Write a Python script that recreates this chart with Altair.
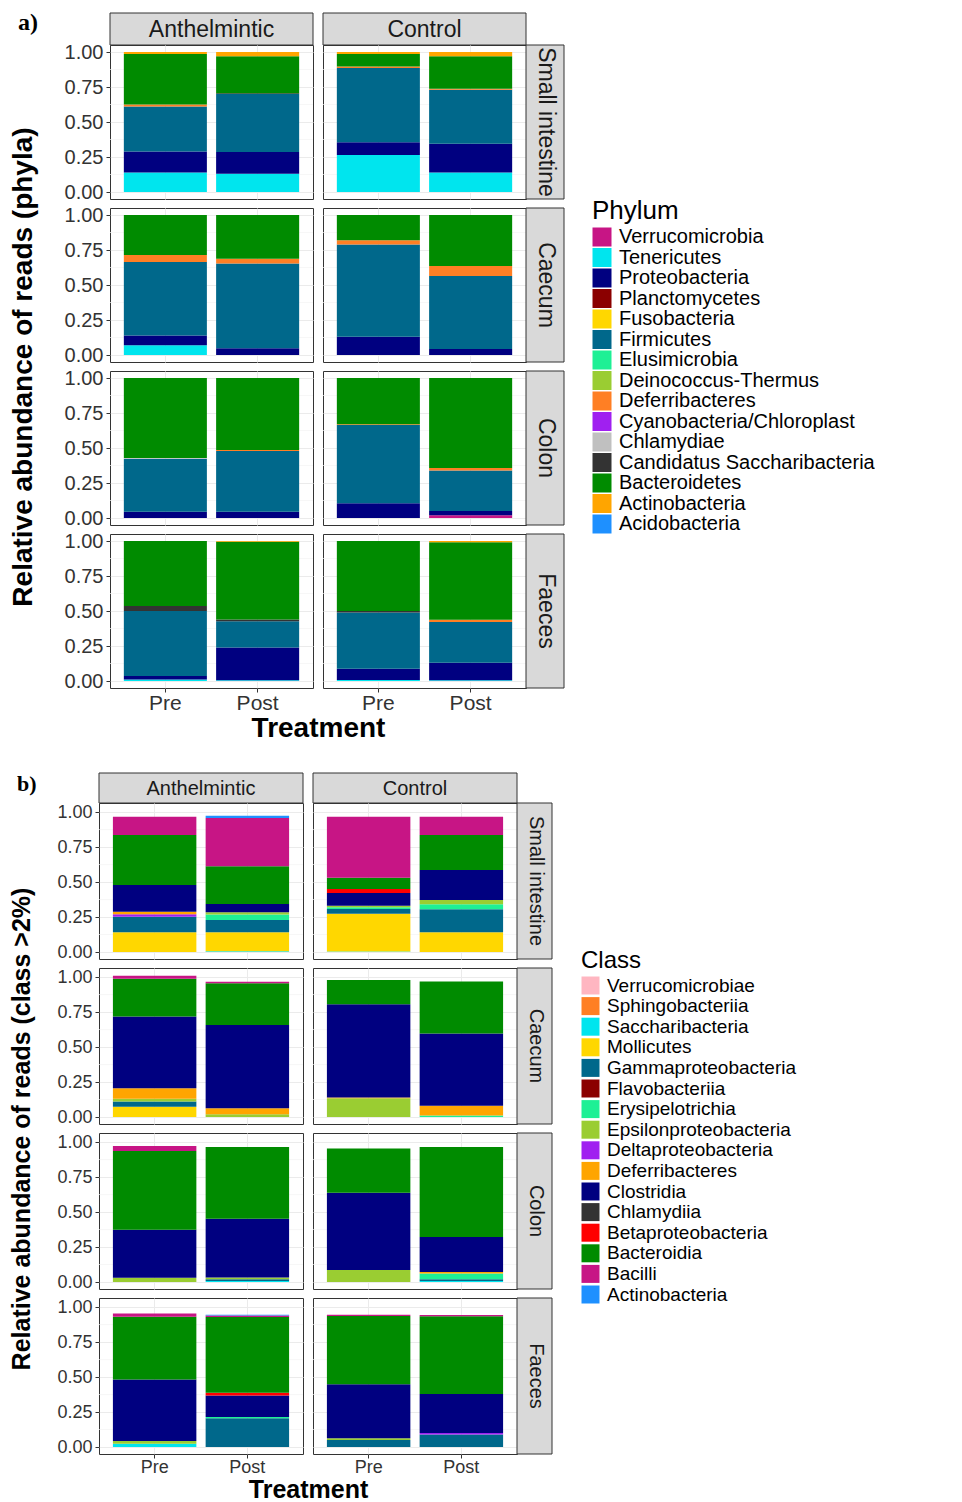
import altair as alt
import pandas as pd

FONT = "Liberation Sans"

TIMES = ["Pre", "Post"]
GROUPS = ["Anthelmintic", "Control"]
SITES = ["Small intestine", "Caecum", "Colon", "Faeces"]

# ---------------- a) phyla ----------------
PHYLA = ["Verrucomicrobia", "Tenericutes", "Proteobacteria", "Planctomycetes",
         "Fusobacteria", "Firmicutes", "Elusimicrobia", "Deinococcus-Thermus",
         "Deferribacteres", "Cyanobacteria/Chloroplast", "Chlamydiae",
         "Candidatus Saccharibacteria", "Bacteroidetes", "Actinobacteria",
         "Acidobacteria"]
PHYLUM_COLORS = ["#c71585", "#00e5ee", "#000080", "#8b0000", "#ffd700", "#00688b",
                 "#1ef095", "#9acd32", "#ff7f24", "#a020f0", "#c0c0c0", "#333333",
                 "#008b00", "#ffa500", "#1e90ff"]

PHYLA_SMALL_INTESTINE = {
    ("Anthelmintic", "Pre"): {"Tenericutes": 0.14, "Proteobacteria": 0.15, "Firmicutes": 0.32,
                              "Deferribacteres": 0.015, "Bacteroidetes": 0.36, "Actinobacteria": 0.015},
    ("Anthelmintic", "Post"): {"Tenericutes": 0.13, "Proteobacteria": 0.155, "Firmicutes": 0.415,
                               "Candidatus Saccharibacteria": 0.005, "Bacteroidetes": 0.265, "Actinobacteria": 0.03},
    ("Control", "Pre"): {"Tenericutes": 0.265, "Proteobacteria": 0.09, "Firmicutes": 0.53,
                         "Deferribacteres": 0.012, "Bacteroidetes": 0.088, "Actinobacteria": 0.015},
    ("Control", "Post"): {"Tenericutes": 0.14, "Proteobacteria": 0.205, "Firmicutes": 0.385,
                          "Deferribacteres": 0.008, "Bacteroidetes": 0.232, "Actinobacteria": 0.03},
}
PHYLA_CAECUM = {
    ("Anthelmintic", "Pre"): {"Tenericutes": 0.07, "Proteobacteria": 0.07, "Firmicutes": 0.525,
                              "Deferribacteres": 0.05, "Bacteroidetes": 0.285},
    ("Anthelmintic", "Post"): {"Proteobacteria": 0.048, "Firmicutes": 0.605,
                               "Deferribacteres": 0.035, "Bacteroidetes": 0.312},
    ("Control", "Pre"): {"Proteobacteria": 0.13, "Firmicutes": 0.66,
                         "Deferribacteres": 0.03, "Bacteroidetes": 0.18},
    ("Control", "Post"): {"Proteobacteria": 0.042, "Firmicutes": 0.523,
                          "Deferribacteres": 0.07, "Bacteroidetes": 0.365},
}
PHYLA_COLON = {
    ("Anthelmintic", "Pre"): {"Proteobacteria": 0.045, "Firmicutes": 0.378,
                              "Chlamydiae": 0.005, "Bacteroidetes": 0.572},
    ("Anthelmintic", "Post"): {"Proteobacteria": 0.045, "Firmicutes": 0.434,
                               "Deferribacteres": 0.006, "Bacteroidetes": 0.515},
    ("Control", "Pre"): {"Proteobacteria": 0.105, "Firmicutes": 0.56,
                         "Deferribacteres": 0.005, "Bacteroidetes": 0.33},
    ("Control", "Post"): {"Verrucomicrobia": 0.019, "Proteobacteria": 0.031, "Firmicutes": 0.29,
                          "Deferribacteres": 0.018, "Bacteroidetes": 0.642},
}
PHYLA_FAECES = {
    ("Anthelmintic", "Pre"): {"Tenericutes": 0.01, "Proteobacteria": 0.026, "Firmicutes": 0.464,
                              "Candidatus Saccharibacteria": 0.036, "Bacteroidetes": 0.464},
    ("Anthelmintic", "Post"): {"Tenericutes": 0.005, "Proteobacteria": 0.234, "Firmicutes": 0.188,
                               "Candidatus Saccharibacteria": 0.012, "Bacteroidetes": 0.555,
                               "Actinobacteria": 0.006},
    ("Control", "Pre"): {"Tenericutes": 0.008, "Proteobacteria": 0.08, "Firmicutes": 0.402,
                         "Candidatus Saccharibacteria": 0.01, "Bacteroidetes": 0.50},
    ("Control", "Post"): {"Tenericutes": 0.005, "Proteobacteria": 0.126, "Firmicutes": 0.291,
                          "Deferribacteres": 0.015, "Bacteroidetes": 0.554, "Actinobacteria": 0.009},
}

# ---------------- b) classes ----------------
CLASSES = ["Verrucomicrobiae", "Sphingobacteriia", "Saccharibacteria", "Mollicutes",
           "Gammaproteobacteria", "Flavobacteriia", "Erysipelotrichia",
           "Epsilonproteobacteria", "Deltaproteobacteria", "Deferribacteres",
           "Clostridia", "Chlamydiia", "Betaproteobacteria", "Bacteroidia", "Bacilli",
           "Actinobacteria"]
CLASS_COLORS = ["#ffb6c1", "#ff7f24", "#00e5ee", "#ffd700", "#00688b", "#8b0000",
                "#1ef095", "#9acd32", "#a020f0", "#ffa500", "#000080", "#333333",
                "#ff0000", "#008b00", "#c71585", "#1e90ff"]

CLASS_SMALL_INTESTINE = {
    ("Anthelmintic", "Pre"): {"Mollicutes": 0.141, "Gammaproteobacteria": 0.111,
                              "Deltaproteobacteria": 0.018, "Deferribacteres": 0.018,
                              "Clostridia": 0.191, "Bacteroidia": 0.357, "Bacilli": 0.131},
    ("Anthelmintic", "Post"): {"Saccharibacteria": 0.006, "Mollicutes": 0.136,
                               "Gammaproteobacteria": 0.086, "Erysipelotrichia": 0.04,
                               "Epsilonproteobacteria": 0.016, "Clostridia": 0.06,
                               "Bacteroidia": 0.269, "Bacilli": 0.345, "Actinobacteria": 0.016},
    ("Control", "Pre"): {"Saccharibacteria": 0.004, "Mollicutes": 0.269,
                         "Gammaproteobacteria": 0.034, "Erysipelotrichia": 0.012,
                         "Epsilonproteobacteria": 0.012, "Clostridia": 0.091,
                         "Betaproteobacteria": 0.029, "Bacteroidia": 0.079, "Bacilli": 0.436},
    ("Control", "Post"): {"Mollicutes": 0.141, "Gammaproteobacteria": 0.164,
                          "Erysipelotrichia": 0.036, "Epsilonproteobacteria": 0.031,
                          "Clostridia": 0.214, "Bacteroidia": 0.25, "Bacilli": 0.131},
}
CLASS_CAECUM = {
    ("Anthelmintic", "Pre"): {"Mollicutes": 0.074, "Gammaproteobacteria": 0.036,
                              "Epsilonproteobacteria": 0.02, "Deferribacteres": 0.076,
                              "Clostridia": 0.512, "Bacteroidia": 0.271, "Bacilli": 0.02},
    ("Anthelmintic", "Post"): {"Epsilonproteobacteria": 0.02, "Deferribacteres": 0.043,
                               "Clostridia": 0.595, "Bacteroidia": 0.298, "Bacilli": 0.01},
    ("Control", "Pre"): {"Epsilonproteobacteria": 0.134, "Deferribacteres": 0.005,
                         "Clostridia": 0.667, "Bacteroidia": 0.174},
    ("Control", "Post"): {"Erysipelotrichia": 0.01, "Deferribacteres": 0.071,
                          "Clostridia": 0.516, "Bacteroidia": 0.371},
}
CLASS_COLON = {
    ("Anthelmintic", "Pre"): {"Epsilonproteobacteria": 0.031, "Clostridia": 0.343,
                              "Bacteroidia": 0.562, "Bacilli": 0.036},
    ("Anthelmintic", "Post"): {"Saccharibacteria": 0.008, "Gammaproteobacteria": 0.012,
                               "Epsilonproteobacteria": 0.012, "Clostridia": 0.421,
                               "Bacteroidia": 0.512},
    ("Control", "Pre"): {"Epsilonproteobacteria": 0.086, "Clostridia": 0.552,
                         "Bacteroidia": 0.317},
    ("Control", "Post"): {"Saccharibacteria": 0.008, "Gammaproteobacteria": 0.012,
                          "Erysipelotrichia": 0.04, "Deferribacteres": 0.012,
                          "Clostridia": 0.25, "Bacteroidia": 0.643},
}
CLASS_FAECES = {
    ("Anthelmintic", "Pre"): {"Saccharibacteria": 0.024, "Epsilonproteobacteria": 0.019,
                              "Clostridia": 0.44, "Bacteroidia": 0.448, "Bacilli": 0.024},
    ("Anthelmintic", "Post"): {"Gammaproteobacteria": 0.205, "Erysipelotrichia": 0.01,
                               "Clostridia": 0.153, "Betaproteobacteria": 0.019,
                               "Bacteroidia": 0.543, "Bacilli": 0.01, "Actinobacteria": 0.005},
    ("Control", "Pre"): {"Gammaproteobacteria": 0.05, "Epsilonproteobacteria": 0.012,
                         "Clostridia": 0.386, "Bacteroidia": 0.488, "Bacilli": 0.01},
    ("Control", "Post"): {"Gammaproteobacteria": 0.09, "Deltaproteobacteria": 0.01,
                          "Clostridia": 0.279, "Bacteroidia": 0.555, "Bacilli": 0.01},
}

Y_TICKS = [0, 0.25, 0.5, 0.75, 1.0]
Y_MINOR = [0.125, 0.375, 0.625, 0.875]


def build(site_tables, cats):
    rows = []
    for site, table in zip(SITES, site_tables):
        for (grp, t), vals in table.items():
            for taxon, v in vals.items():
                rows.append(dict(site=site, group=grp, time=t, taxon=taxon,
                                 value=v, idx=cats.index(taxon)))
    return pd.DataFrame(rows)


def panel(df, cats, colors, S, site, grp, left, bottom, ytitle):
    sub = df[(df.site == site) & (df.group == grp)]
    yscale = alt.Scale(domain=S["ydomain"], nice=False, zero=False)
    yargs = dict(values=Y_TICKS, format=".2f", grid=True, gridColor="#ebebeb",
                 gridWidth=1, domain=False, labels=left, ticks=left,
                 tickSize=4, tickColor="#333333", labelPadding=3,
                 labelFontSize=S["tick_fs"], labelColor="#333333", labelFont=FONT,
                 titleFont=FONT, titleFontSize=S["title_fs"], titleFontWeight="bold",
                 titleColor="#000000")
    if ytitle:
        yargs.update(title=S["ytitle"], titleY=S["panel_h"] + 4.5, titleAlign="center",
                     titlePadding=S["ytitle_pad"])
    else:
        yargs.update(title=None)
    yaxis = alt.Axis(**yargs)

    xargs = dict(grid=True, gridColor="#ebebeb", domain=False, bandPosition=0.5,
                 labels=bottom, ticks=bottom, tickSize=4, tickColor="#333333",
                 labelAngle=0, labelPadding=0, labelFontSize=S["xlab_fs"],
                 labelColor="#333333", labelFont=FONT, titleFont=FONT,
                 titleFontSize=S["title_fs"], titleFontWeight="bold",
                 titleColor="#000000")
    if bottom and left:
        xargs.update(title="Treatment", titleX=S["panel_w"] + 5, titleAlign="center",
                     titlePadding=1)
    else:
        xargs.update(title=None)
    xaxis = alt.Axis(**xargs)

    legend = alt.Legend(title=S["leg_title"], orient="none", legendX=S["leg_x"],
                        legendY=S["leg_y"], symbolType="square",
                        symbolSize=S["leg_sym"] ** 2, symbolStrokeWidth=0,
                        labelFontSize=S["leg_fs"], labelFont=FONT, labelColor="#000000",
                        titleFontSize=S["leg_title_fs"], titleFont=FONT,
                        titleFontWeight="normal", titleColor="#000000",
                        rowPadding=S["leg_rowpad"], labelOffset=7, titlePadding=3,
                        labelLimit=500)

    minor = alt.Chart(pd.DataFrame({"v": Y_MINOR})).mark_rule(
        color="#f3f3f3", strokeWidth=0.7).encode(
        y=alt.Y("v:Q", scale=yscale, axis=yaxis))

    bars = alt.Chart(sub).mark_bar().encode(
        x=alt.X("time:N", sort=TIMES,
                scale=alt.Scale(domain=TIMES, paddingInner=0.1, paddingOuter=0.15),
                axis=xaxis),
        y=alt.Y("value:Q", stack="zero", scale=yscale, axis=yaxis),
        color=alt.Color("taxon:N", scale=alt.Scale(domain=cats, range=colors),
                        legend=legend),
        order=alt.Order("idx:Q", sort="ascending"),
    )
    return alt.layer(minor, bars).properties(
        width=S["panel_w"], height=S["panel_h"],
        view=alt.ViewBackground(stroke="#333333", strokeWidth=1))


def header(label, S, tag=None):
    d = pd.DataFrame({"label": [label]})
    base = alt.Chart(d)
    full_h = S["hdr_h"] + 9
    rect = base.mark_rect(fill="#d9d9d9", stroke="#333333", strokeWidth=1).encode(
        x=alt.value(0), x2=alt.value(S["panel_w"]), y=alt.value(0), y2=alt.value(full_h))
    txt = base.mark_text(fontSize=S["hdr_fs"], font=FONT, color="#1a1a1a",
                         baseline="middle", align="center").encode(
        text="label:N", x=alt.value(S["panel_w"] / 2), y=alt.value(full_h / 2 + 1))
    layers = [rect, txt]
    if tag:
        layers.append(base.mark_text(text=tag, font="Liberation Serif", fontWeight="bold",
                                     fontSize=S["tag_fs"], align="left",
                                     baseline="middle", color="#000000").encode(
            x=alt.value(S["tag_x"]), y=alt.value(S["tag_y"])))
    return alt.layer(*layers).properties(
        width=S["panel_w"], height=S["hdr_h"],
        view=alt.ViewBackground(stroke="transparent"))


def strip(site, S):
    d = pd.DataFrame({"label": [site]})
    base = alt.Chart(d)
    rect = base.mark_rect(fill="#d9d9d9", stroke="#333333", strokeWidth=1).encode(
        x=alt.value(-10), x2=alt.value(S["strip_w"]), y=alt.value(0),
        y2=alt.value(S["panel_h"]))
    txt = base.mark_text(fontSize=S["hdr_fs"], font=FONT, color="#1a1a1a", angle=90,
                         baseline="middle", align="center").encode(
        text="label:N", x=alt.value((S["strip_w"] - 10) / 2 + 1),
        y=alt.value(S["panel_h"] / 2))
    return alt.layer(rect, txt).properties(
        width=S["strip_w"], height=S["panel_h"],
        view=alt.ViewBackground(stroke="transparent"))


def blank(w, h):
    return alt.Chart(pd.DataFrame({"label": [""]})).mark_text().encode(
        text="label:N", x=alt.value(0), y=alt.value(0)).properties(
        width=w, height=h, view=alt.ViewBackground(stroke="transparent"))


def section(df, cats, colors, S):
    lead = S["lead"]
    charts = []
    if lead:
        charts.append(blank(0.01, S["hdr_h"]))
    charts += [header("Anthelmintic", S, tag=S["tag"]), header("Control", S),
               blank(S["strip_w"], S["hdr_h"])]
    for i, site in enumerate(SITES):
        if lead:
            charts.append(blank(0.01, S["panel_h"]))
        charts.append(panel(df, cats, colors, S, site, "Anthelmintic", True, i == 3, i == 1))
        charts.append(panel(df, cats, colors, S, site, "Control", False, i == 3, False))
        charts.append(strip(site, S))
    return alt.concat(*charts, columns=4 if lead else 3,
                      spacing={"row": 9, "column": 10},
                      bounds="flush", align="each")


SA = dict(tag="a)", lead=True, panel_w=203, panel_h=154, hdr_h=23, strip_w=28,
          ydomain=[-0.05, 1.05], hdr_fs=23, tick_fs=20, xlab_fs=21, title_fs=28,
          ytitle="Relative abundance of reads (phyla)", ytitle_pad=27,
          leg_title="Phylum", leg_title_fs=26, leg_fs=20, leg_sym=19, leg_rowpad=0.5,
          leg_x=493, leg_y=185, tag_x=-92, tag_y=10, tag_fs=24)
SB = dict(tag="b)", lead=False, panel_w=204, panel_h=156, hdr_h=21, strip_w=25,
          ydomain=[-0.05, 1.065], hdr_fs=20, tick_fs=18, xlab_fs=18, title_fs=25,
          ytitle="Relative abundance of reads (class >2%)", ytitle_pad=22,
          leg_title="Class", leg_title_fs=24, leg_fs=19, leg_sym=18, leg_rowpad=0.6,
          leg_x=482, leg_y=176, tag_x=-82, tag_y=11, tag_fs=22)

df_a = build([PHYLA_SMALL_INTESTINE, PHYLA_CAECUM, PHYLA_COLON, PHYLA_FAECES], PHYLA)
df_b = build([CLASS_SMALL_INTESTINE, CLASS_CAECUM, CLASS_COLON, CLASS_FAECES], CLASSES)

sec_a = section(df_a, PHYLA, PHYLUM_COLORS, SA)
sec_b = section(df_b, CLASSES, CLASS_COLORS, SB)

chart = alt.vconcat(sec_a, sec_b, spacing=23).resolve_scale(
    color="independent").properties(
    padding={"left": 8, "top": 6, "right": 0, "bottom": 0},
    background="#ffffff").configure(font=FONT)

chart.save("out.html", embed_options={"renderer": "svg", "actions": False})
